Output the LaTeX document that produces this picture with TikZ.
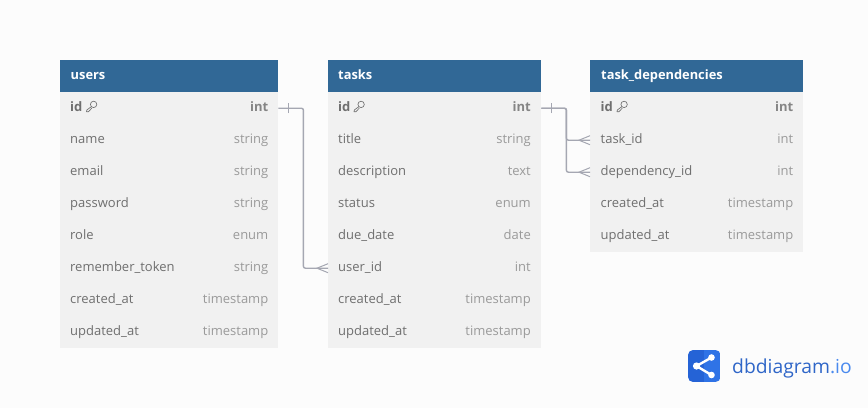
\documentclass[tikz,border=0pt]{standalone}
\usepackage{fontspec}
\setmainfont{Open Sans}
\definecolor{pagebg}{HTML}{FCFCFC}
\definecolor{headbg}{HTML}{316896}
\definecolor{rowbg}{HTML}{F1F1F1}
\definecolor{nametxt}{HTML}{6F6F6F}
\definecolor{typetxt}{HTML}{9A9A9A}
\definecolor{linkc}{HTML}{A5A7B2}
\definecolor{logoa}{HTML}{2563D6}
\definecolor{logob}{HTML}{2F73E6}
\definecolor{logotxt}{HTML}{2F66C8}
\definecolor{logoio}{HTML}{4A8AEE}
\tikzset{
  x=1pt,y=-1pt,
  headbox/.style={fill=headbg,inner sep=0,minimum height=32pt,anchor=north west},
  rowbox/.style={fill=rowbg,inner sep=0,minimum height=32pt,anchor=north west},
  headtxt/.style={anchor=base west,text=white,font=\fontsize{12.85}{15}\selectfont\bfseries,inner sep=0},
  nametext/.style={anchor=base west,text=nametxt,font=\fontsize{13}{15}\selectfont,inner sep=0},
  typetext/.style={anchor=base east,text=typetxt,font=\fontsize{13}{15}\selectfont,inner sep=0},
  pkname/.style={nametext,font=\fontsize{13}{15}\selectfont\bfseries},
  pktype/.style={typetext,text=nametxt!85!white,font=\fontsize{13}{15}\selectfont\bfseries},
  link/.style={draw=linkc,line width=1.4pt,rounded corners=2pt},
  linkmark/.style={draw=linkc,line width=1pt},
  keyicon/.style={draw=nametxt,line width=.65pt,fill=none,line join=round},
}
\newcommand{\keyat}[2]{%
  \begin{scope}[shift={(#1,#2)}]
    \draw[keyicon] (2.1,-2.1) circle[radius=3.2];
    \draw[keyicon] (-0.2,0.2) -- (-4.6,3.4) -- (-5,5.2) -- (-3,5.2) -- (0.3,1.6);
  \end{scope}}
\begin{document}
\begin{tikzpicture}
\useasboundingbox (0,0) rectangle (868,408);
\fill[pagebg] (0,0) rectangle (868,408);

% users
\node[headbox,minimum width=218pt] (users) at (60,60) {};
\node[headtxt] (usersT) at (70.5,79) {users};
\foreach \nm/\ty/\idx in {name/string/1,email/string/2,password/string/3,role/enum/4,remember\_token/string/5,created\_at/timestamp/6,updated\_at/timestamp/7}{
  \node[rowbox,minimum width=218pt] (usersR\idx) at (60,92+32*\idx) {};
  \node[nametext] (usersN\idx) at (70,143+32*\idx-32) {\nm};
  \node[typetext] (usersY\idx) at (268.5,143+32*\idx-32) {\ty};
}
\node[rowbox,minimum width=218pt] (usersid) at (60,92) {};
\node[pkname] (usersidN) at (70,111) {id};
\node[pktype] (usersidY) at (268.5,111) {int};
\keyat{91.5}{106.5}

% tasks
\node[headbox,minimum width=213pt] (tasks) at (328,60) {};
\node[headtxt] (tasksT) at (338,79) {tasks};
\foreach \nm/\ty/\idx in {title/string/1,description/text/2,status/enum/3,due\_date/date/4,user\_id/int/5,created\_at/timestamp/6,updated\_at/timestamp/7}{
  \node[rowbox,minimum width=213pt] (tasksR\idx) at (328,92+32*\idx) {};
  \node[nametext] (tasksN\idx) at (338,143+32*\idx-32) {\nm};
  \node[typetext] (tasksY\idx) at (531,143+32*\idx-32) {\ty};
}
\node[rowbox,minimum width=213pt] (tasksid) at (328,92) {};
\node[pkname] (tasksidN) at (338,111) {id};
\node[pktype] (tasksidY) at (531,111) {int};
\keyat{359}{106.5}

% task_dependencies
\node[headbox,minimum width=213pt] (deps) at (590,60) {};
\node[headtxt] (depsT) at (601,79) {task\_dependencies};
\foreach \nm/\ty/\idx in {task\_id/int/1,dependency\_id/int/2,created\_at/timestamp/3,updated\_at/timestamp/4}{
  \node[rowbox,minimum width=213pt] (depsR\idx) at (590,92+32*\idx) {};
  \node[nametext] (depsN\idx) at (600.5,143+32*\idx-32) {\nm};
  \node[typetext] (depsY\idx) at (793.5,143+32*\idx-32) {\ty};
}
\node[rowbox,minimum width=213pt] (depsid) at (590,92) {};
\node[pkname] (depsidN) at (600.5,111) {id};
\node[pktype] (depsidY) at (793.5,111) {int};
\keyat{622}{106.5}

% connectors
\draw[link] (usersid.east) -- ++(25,0) |- (tasksR5.west);
\draw[link] (tasksid.east) -- ++(25,0) |- (depsR1.west);
\draw[link] (tasksid.east) -- ++(25,0) |- (depsR2.west);
% one-end bars
\draw[linkmark] ([xshift=10pt,yshift=-5pt]usersid.east) -- ([xshift=10pt,yshift=5pt]usersid.east);
\draw[linkmark] ([xshift=10pt,yshift=-5pt]tasksid.east) -- ([xshift=10pt,yshift=5pt]tasksid.east);
% crow's feet
\foreach \tgt in {tasksR5,depsR1,depsR2}{
  \draw[linkmark] ([yshift=-4.5pt]\tgt.west) -- ([xshift=-11pt]\tgt.west) -- ([yshift=4.5pt]\tgt.west);
}

% logo
\begin{scope}
  \clip[rounded corners=5pt] (688,350) rectangle (720.5,382);
  \fill[logoa] (688,350) rectangle (704,382);
  \fill[logob] (704,350) rectangle (720.5,382);
\end{scope}
\coordinate (logoL) at (696.5,366);
\coordinate (logoT) at (711.5,357.5);
\coordinate (logoB) at (711.5,375);
\draw[white,line width=2.4pt] (logoT) -- (logoL) -- (logoB);
\fill[white] (logoL) circle[radius=3.6] (logoT) circle[radius=3.3] (logoB) circle[radius=3.3];
\node[anchor=base west,inner sep=0,font=\fontsize{19.3}{21}\selectfont] (logotext) at (732,373) {\textcolor{logotxt}{dbdiagram}\textcolor{logoio}{.io}};
\end{tikzpicture}
\end{document}
